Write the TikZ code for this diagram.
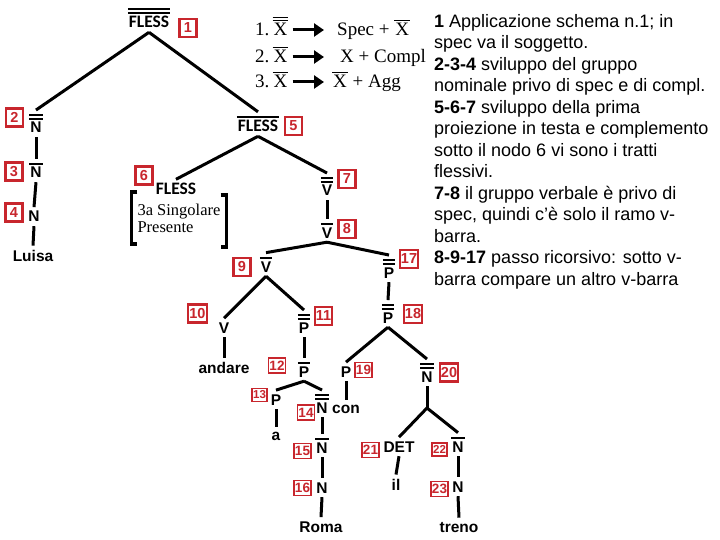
\documentclass[tikz,border=0pt]{standalone}
\usepackage{fontspec}
\setmainfont{Liberation Serif}
\setsansfont{Liberation Sans}
\newfontfamily\flessfont{Carlito}
\usetikzlibrary{arrows.meta}
\definecolor{numred}{RGB}{200,38,45}

\newlength\barht
\setlength\barht{2pt}
\newcommand\sbar[1]{\vbox{\offinterlineskip\halign{\hfil##\hfil\cr
	\leaders\hrule height\barht\hfill\cr\noalign{\kern2.5pt}
	\kern1pt#1\kern1pt\cr}}}
\newcommand\dbar[1]{\vbox{\offinterlineskip\halign{\hfil##\hfil\cr
	\leaders\hrule height\barht\hfill\cr\noalign{\kern1.6pt}
	\leaders\hrule height\barht\hfill\cr\noalign{\kern2.5pt}
	\kern1pt#1\kern1pt\cr}}}

\tikzset{
	lab/.style={font=\sffamily\bfseries\fontsize{15.5}{18}\selectfont,anchor=base,inner xsep=2pt,inner ysep=4pt},
	fless/.style={lab,font=\flessfont\bfseries\fontsize{17.5}{20}\selectfont},
	num/.style={draw=numred,line width=2.1pt,fill=white,text=numred,font=\sffamily\bfseries\fontsize{14.5}{16}\selectfont,minimum width=17pt,minimum height=18pt,inner sep=1pt},
	smallnum/.style={num,font=\sffamily\bfseries\fontsize{13.5}{15}\selectfont,minimum width=15pt,minimum height=15pt,line width=1.9pt},
	tinynum/.style={num,font=\sffamily\bfseries\fontsize{11.5}{13}\selectfont,minimum width=13pt,minimum height=13pt,line width=1.6pt},
	feat/.style={font=\rmfamily\fontsize{16.5}{17}\selectfont,align=left,inner xsep=6pt,inner ysep=0pt,minimum height=52pt},
	leg/.style={font=\rmfamily\fontsize{19}{22}\selectfont,anchor=base west,inner sep=0pt,execute at begin node={\setlength\barht{1.4pt}}},
	desc/.style={font=\sffamily\fontsize{18}{21.5}\selectfont,anchor=north west,inner sep=0pt,align=left}
}

\begin{document}
\begin{tikzpicture}[x=1pt,y=-1pt]
	\fill[white] (0,0) rectangle (720,540);

	\begin{scope}[every node/.style={lab}]
		\node[fless] (n1) at (149,28) {\dbar{FLESS}};
		\node (n2) at (36,133) {\dbar{N}};
		\node (n3) at (36,178) {\sbar{N}};
		\node (n4) at (34,222) {N};
		\node (luisa) at (33,261) {Luisa};
		\node[fless] (n5) at (258,132) {\sbar{FLESS}};
		\node[fless] (n6) at (176,195) {FLESS};
		\node (n7) at (327,196) {\dbar{V}};
		\node (n8) at (327,238) {\sbar{V}};
		\node (n9) at (266,272) {\sbar{V}};
		\node (n17) at (389,278) {\dbar{P}};
		\node (n10) at (224,333) {V};
		\node (n11) at (304,333) {\dbar{P}};
		\node (andare) at (224,373) {andare};
		\node (n12) at (304,377) {\sbar{P}};
		\node (n13) at (276,405) {P};
		\node (n14) at (322,413) {\dbar{N}};
		\node (a) at (276,440) {a};
		\node (n15) at (322,453) {\sbar{N}};
		\node (n16) at (322,493) {N};
		\node (roma) at (321,532) {Roma};
		\node (n18) at (388,323) {\dbar{P}};
		\node (n19) at (346,377) {P};
		\node (con) at (346,413) {con};
		\node (n20) at (427,382) {\dbar{N}};
		\node (n21) at (399,452) {DET};
		\node (il) at (396,490) {il};
		\node (n22) at (458,452) {\sbar{N}};
		\node (n23) at (458,492) {N};
		\node (treno) at (459,532) {treno};
	\end{scope}
	\coordinate (f20) at (427,408);

	\node[feat] (feat) at (179,218) {3a Singolare\\Presente};
	\draw[line width=3.5pt] ([xshift=6pt]feat.north west) -- (feat.north west) -- (feat.south west) -- ++(6,0);
	\draw[line width=3.5pt] ([xshift=-6pt,yshift=-3pt]feat.north east) -- ([yshift=-3pt]feat.north east) -- ([yshift=-3pt]feat.south east) -- ++(-6,0);

	\begin{scope}[every edge/.style={draw,line width=3pt}]
		\path (n1.south) edge (n2.north);
		\path (n1.south) edge (n5.north);
		\path (n2.south) edge (n3.north);
		\path (n3.south) edge (n4.north);
		\path (n4.south) edge (luisa.north);
		\path (n5.south) edge (n6.north);
		\path (n5.south) edge (n7.north);
		\path (n7.south) edge (n8.north);
		\path (n8.south) edge (n9.north);
		\path (n8.south) edge (n17.north);
		\path (n9.south) edge (n10.north);
		\path (n9.south) edge (n11.north);
		\path (n10.south) edge (andare.north);
		\path (n11.south) edge (n12.north);
		\path (n12.south) edge (n13.north);
		\path (n12.south) edge (n14.north);
		\path (n13.south) edge (a.north);
		\path (n14.south) edge (n15.north);
		\path (n15.south) edge (n16.north);
		\path (n16.south) edge (roma.north);
		\path (n17.south) edge (n18.north);
		\path (n18.south) edge (n19.north);
		\path (n18.south) edge (n20.north);
		\path (n19.south) edge (con.north);
		\path (n20.south) edge (f20);
		\path (f20) edge (n21.north);
		\path (f20) edge (n22.north);
		\path (n21.south) edge (il.north);
		\path (n22.south) edge (n23.north);
		\path (n23.south) edge (treno.north);
	\end{scope}

	\begin{scope}[every node/.style={num}]
		\node (b1) at (188,28) {1};
		\node (b2) at (14.5,117.5) {2};
		\node (b3) at (14,171.5) {3};
		\node (b4) at (14,212.5) {4};
		\node (b5) at (293.5,126) {5};
		\node (b6) at (144,175.5) {6};
		\node (b7) at (347,179) {7};
		\node (b8) at (347,229) {8};
		\node (b9) at (242,267) {9};
		\node (b10) at (197.5,313.5) {10};
		\node (b11) at (323.5,316) {11};
		\node (b17) at (409,259) {17};
		\node (b18) at (413,314) {18};
		\node (b20) at (449,372.5) {20};
		\node[smallnum] (b12) at (277,365.5) {12};
		\node[tinynum] (b13) at (259.5,395) {13};
		\node[smallnum] (b14) at (306,412.5) {14};
		\node[smallnum] (b15) at (302.5,451) {15};
		\node[smallnum] (b16) at (302.5,488) {16};
		\node[smallnum] (b19) at (363.5,370) {19};
		\node[smallnum] (b21) at (370.5,450) {21};
		\node[tinynum] (b22) at (439.5,449.5) {22};
		\node[smallnum] (b23) at (439.5,489) {23};
	\end{scope}

	\begin{scope}[every node/.style={leg}]
		\node (l1) at (255,36) {1.\,\dbar{X}};
		\node (r1) at (337,36) {Spec + \sbar{X}};
		\node (l2) at (255,63) {2.\,\sbar{X}};
		\node (r2) at (340,63) {X + Compl};
		\node (l3) at (255,88) {3.\,\sbar{X}};
		\node (r3) at (332,88) {\sbar{X} + Agg};
	\end{scope}

	\begin{scope}[>={Triangle[length=10pt,width=13pt]},every edge/.style={draw,->,line width=3pt,shorten <=4pt}]
		\path ([yshift=6pt]l1.base east) edge[shorten >=13pt] ([yshift=6pt]r1.base west);
		\path ([yshift=6pt]l2.base east) edge[shorten >=16pt] ([yshift=6pt]r2.base west);
		\path ([yshift=6pt]l3.base east) edge[shorten >=8pt] ([yshift=6pt]r3.base west);
	\end{scope}

	\node[desc] (desc) at (434,14) {\textbf{1} Applicazione schema n.1; in\\
		spec va il soggetto.\\
		\textbf{2-3-4} sviluppo del gruppo\\
		nominale privo di spec e di compl.\\
		\textbf{5-6-7} sviluppo della prima\\
		proiezione in testa e complemento\\
		sotto il nodo 6 vi sono i tratti\\
		flessivi.\\
		\textbf{7-8} il gruppo verbale è privo di\\
		spec, quindi c’è solo il ramo v-\\
		barra.\\
		\textbf{8-9-17} passo ricorsivo: sotto v-\\
		barra compare un altro v-barra};
\end{tikzpicture}
\end{document}
